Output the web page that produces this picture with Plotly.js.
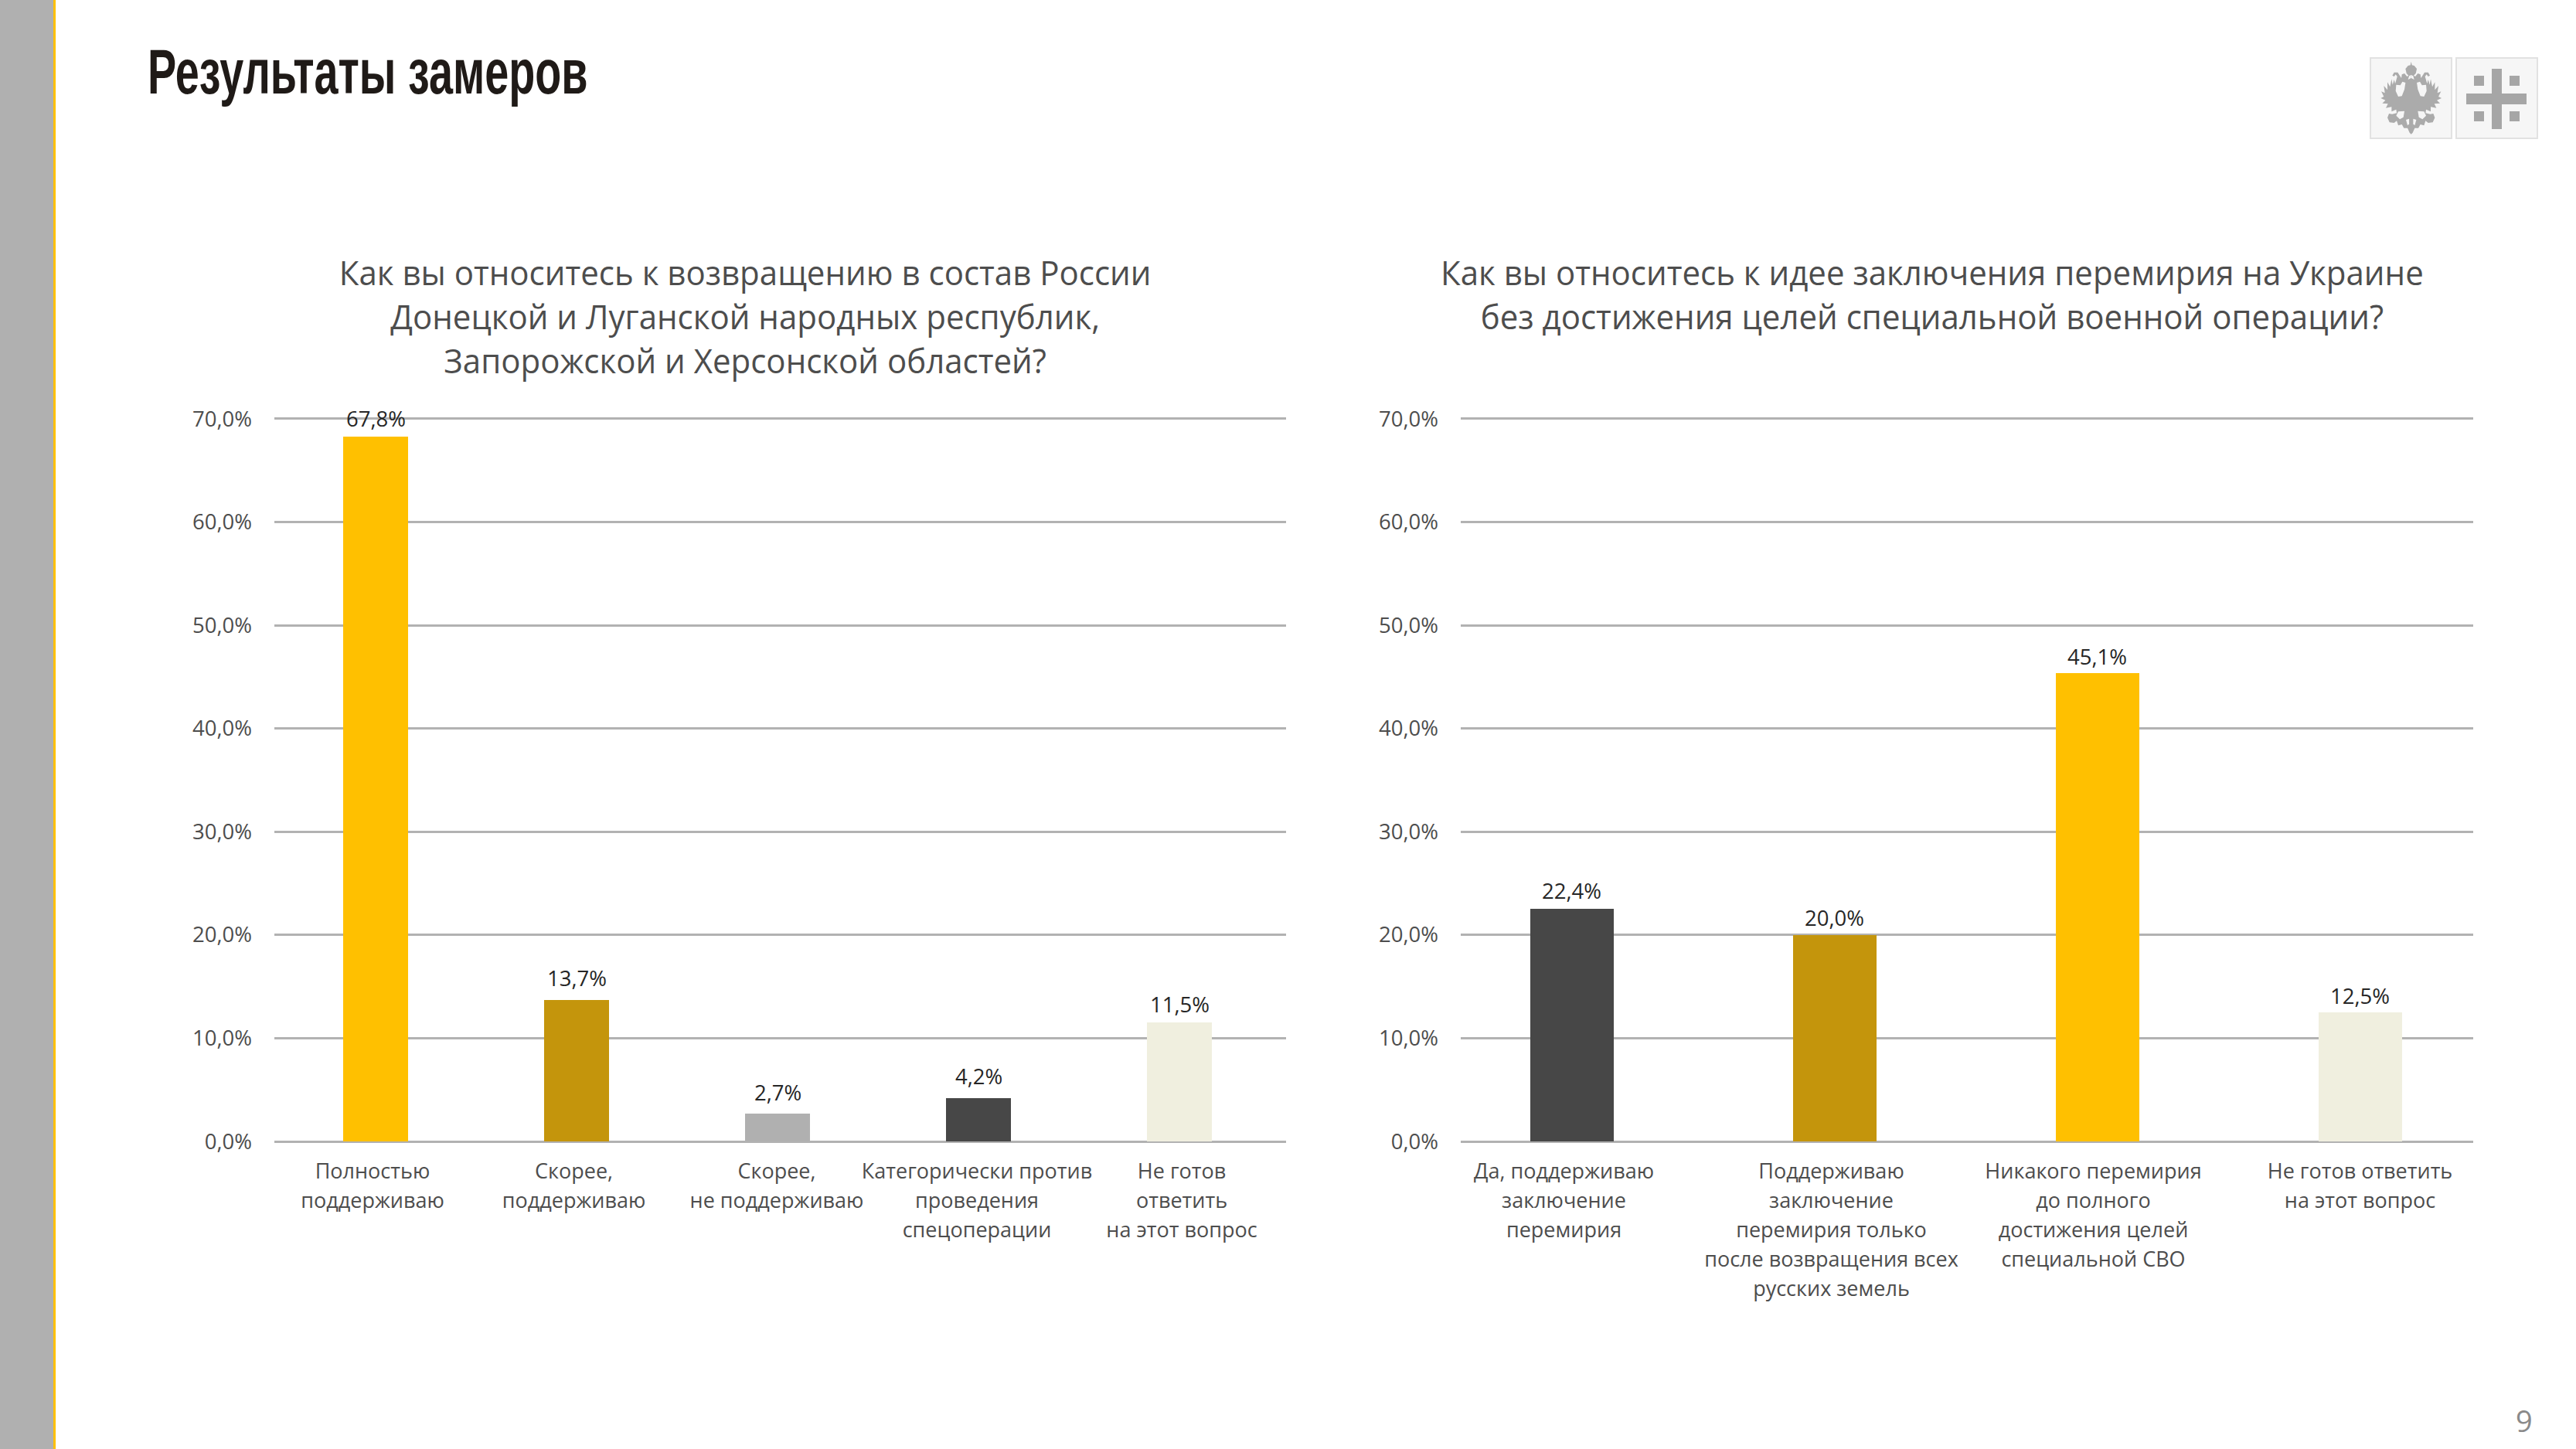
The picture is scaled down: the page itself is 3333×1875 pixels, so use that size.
<!DOCTYPE html>
<html><head><meta charset="utf-8">
<script src="https://cdn.plot.ly/plotly-3.0.1.min.js"></script>
<style>html,body{margin:0;padding:0;background:#fff;overflow:hidden}#c{width:3333px;height:1875px}</style>
</head><body><div id="c"></div>
<script>
const pageTitle = "Результаты замеров";
const pageNumber = "9";

const titleA = "Как вы относитесь к возвращению в состав России<br>Донецкой и Луганской народных республик,<br>Запорожской и Херсонской областей?";
const categoriesA = ["Полностью<br>поддерживаю","Скорее,<br>поддерживаю","Скорее,<br>не поддерживаю","Категорически против<br>проведения<br>спецоперации","Не готов<br>ответить<br>на этот вопрос"];
const barHeightsA = [68.3,13.7,2.7,4.2,11.5];
const labelsA = ["67,8%","13,7%","2,7%","4,2%","11,5%"];
const colorsA = ["#FFC000","#C4950C","#B0B0B0","#474747","#F0EFDF"];

const titleB = "Как вы относитесь к идее заключения перемирия на Украине<br>без достижения целей специальной военной операции?";
const categoriesB = ["Да, поддерживаю<br>заключение<br>перемирия","Поддерживаю<br>заключение<br>перемирия только<br>после возвращения всех<br>русских земель","Никакого перемирия<br>до полного<br>достижения целей<br>специальной СВО","Не готов ответить<br>на этот вопрос"];
const barHeightsB = [22.5,20.0,45.4,12.5];
const labelsB = ["22,4%","20,0%","45,1%","12,5%"];
const colorsB = ["#474747","#C4950C","#FFC000","#F0EFDF"];

const W = 3333, H = 1875;
const FONT = '"Open Sans", "Noto Sans", sans-serif';
const px = x => x / W, py = y => 1 - y / H;
const poly = pts => 'M' + pts.map(p => px(p[0]) + ',' + py(p[1])).join('L') + 'Z';
const rect = (x0, y0, x1, y1, fill, line) => ({type:'rect', xref:'paper', yref:'paper', x0:px(x0), x1:px(x1), y0:py(y0), y1:py(y1), fillcolor:fill, line:line ? {color:line, width:2} : {width:0}, layer:'below'});
const pathShape = (pts, fill) => ({type:'path', xref:'paper', yref:'paper', path:poly(pts), fillcolor:fill, line:{width:0}, layer:'below'});

/* emblem, half outline mirrored about its axis */
const eagleCx = 3119.7, eagleTop = 75;
const half = [[0,14],[3,28],[12,30],[22,42],[18,60],[10,68],[16,72],[26,60],[36,64],[38,78],[46,66],[52,56],[66,56],[73,68],[66,72],[60,64],[54,72],[62,100],[66,84],[72,104],[76,82],[82,112],[92,94],[92,124],[106,108],[102,136],[116,130],[106,150],[118,156],[100,164],[112,176],[90,178],[98,194],[76,190],[76,208],[58,200],[56,214],[74,218],[86,216],[92,232],[84,250],[66,252],[56,244],[50,262],[36,258],[28,272],[14,272],[6,290],[0,296]];
const eagle = half.concat(half.slice(1,-1).reverse().map(p => [-p[0], p[1]])).map(p => [eagleCx + p[0]/3, eagleTop + p[1]/3]);
const cut = (pts, sign) => pts.map(p => [eagleCx + sign*p[0]/3, eagleTop + p[1]/3]);
const cutA = [[22,96],[34,92],[42,106],[58,104],[60,128],[50,150],[36,148],[26,122]];
const cutB = [[26,206],[50,208],[58,224],[44,238],[30,230]];
const cutC = [[0,66],[8,70],[12,84],[0,78]];
const cutD = [[8,236],[20,240],[14,262],[8,256]];

const shapes = [
  rect(0,0,69,H,'#B0B0B0'), rect(69,0,72,H,'#FFC000'),
  rect(3067,75,3172,179,'#F6F6F6','#E2E2E2'), rect(3178,75,3283,179,'#F6F6F6','#E2E2E2'),
  pathShape(eagle,'#ABABAB'),
  pathShape(cut(cutA,1),'#F6F6F6'), pathShape(cut(cutA,-1),'#F6F6F6'),
  pathShape(cut(cutB,1),'#F6F6F6'), pathShape(cut(cutB,-1),'#F6F6F6'),
  pathShape(cut(cutC,1),'#F6F6F6'), pathShape(cut(cutC,-1),'#F6F6F6'),
  pathShape(cut(cutD,1),'#F6F6F6'), pathShape(cut(cutD,-1),'#F6F6F6'),
  rect(3224,89,3237,167,'#A6A6A6'), rect(3191,121,3269,135,'#A6A6A6'),
  rect(3201,98,3214,111,'#A6A6A6'), rect(3247,98,3260,111,'#A6A6A6'),
  rect(3201,144,3214,157,'#A6A6A6'), rect(3247,144,3260,157,'#A6A6A6')
];

const bar = (values, colors, xa, ya, width) => ({
  type:'bar', x:values.map((_, i) => i), y:values, xaxis:xa, yaxis:ya, width:width,
  marker:{color:colors, line:{width:0}}, cliponaxis:false, hoverinfo:'skip'
});

const yAxis = (anchor) => ({
  domain:[py(1477), py(539.3)], range:[0,70.2], anchor:anchor, fixedrange:true, tick0:0, dtick:10,
  tickformat:'.1f', ticksuffix:'%', ticklabelstandoff:28,
  tickfont:{family:FONT, size:27.5, color:'#4D4D4D'},
  showgrid:true, gridcolor:'#B2B2B2', gridwidth:3, zeroline:true, zerolinecolor:'#B2B2B2', zerolinewidth:3, showline:false, ticks:''
});
const xAxis = (anchor, x0, x1, c0, step, cats, shifts) => ({
  domain:[px(x0), px(x1)], range:[(x0-c0)/step, (x1-c0)/step], anchor:anchor, fixedrange:true, type:'linear',
  tickmode:'array', tickvals:cats.map((_, i) => i + shifts[i]/step), ticktext:cats, tickangle:0,
  ticklabelstandoff:20, tickfont:{family:FONT, size:27, color:'#4D4D4D'},
  showgrid:false, zeroline:false, showline:false, ticks:''
});

const note = (text, x, y, size, color, anchor, family, weight) => ({
  text:text, xref:'paper', yref:'paper', x:px(x), y:py(y), xanchor:anchor, yanchor:'middle', showarrow:false, align:'center',
  font:{family:family || FONT, size:size, color:color, weight:weight || 400}
});
const valueNotes = (labels, values, xa, ya, lifts) => labels.map((t, i) => ({
  text:t, xref:xa, yref:ya, x:i, y:values[i], xanchor:'center', yanchor:'middle', yshift:lifts[i], showarrow:false,
  font:{family:FONT, size:27.5, color:'#262626'}
}));

const layout = {
  width:W, height:H, margin:{l:0,r:0,t:0,b:0,pad:0}, paper_bgcolor:'#fff', plot_bgcolor:'rgba(0,0,0,0)',
  showlegend:false, separators:', ', hovermode:false, bargap:0, shapes:shapes,
  xaxis:xAxis('y',355,1664,486,260,categoriesA,[-4,-3.4,-1,-2,3]),
  yaxis:yAxis('x'),
  xaxis2:xAxis('y2',1890,3200,2033.5,340,categoriesB,[-10,-4,-5,0]),
  yaxis2:yAxis('x2'),
  annotations:[
    note(pageTitle,189,92,82,'#1F1A17','left','"Liberation Sans", sans-serif',700),
    note(titleA,964,409,44,'#4D4D4D','center'),
    note(titleB,2500,380,44,'#4D4D4D','center'),
    note(pageNumber,3266,1838,38,'#8A8A8A','center')
  ].concat(
    valueNotes(labelsA,barHeightsA,'x','y',[23,29,27,28,24]),
    valueNotes(labelsB,barHeightsB,'x2','y2',[24,22,21,22])
  )
};

const traces = [
  bar(barHeightsA,colorsA,'x','y',84/260),
  bar(barHeightsB,colorsB,'x2','y2',108/340)
];

const squeeze = (gd, index, factor, anchorLeft) => {
  const t = gd.querySelector('.annotation[data-index="' + index + '"] text');
  if (!t) return;
  const b = t.getBBox();
  const cx = anchorLeft ? b.x : b.x + b.width / 2;
  t.setAttribute('transform', 'translate(' + cx + ',0) scale(' + factor + ',1) translate(' + (-cx) + ',0)');
};

Plotly.newPlot('c',traces,layout,{displayModeBar:false,staticPlot:true}).then(gd => {
  /* the source's tick labels are spaced wider, and its titles set narrower, than the installed fonts give */
  gd.querySelectorAll('.xtick text tspan.line, .x2tick text tspan.line').forEach(t => {
    const dy = parseFloat(t.getAttribute('dy'));
    if (dy) t.setAttribute('dy', (dy * 1.082) + 'em');
  });
  squeeze(gd,0,0.68,true);
  squeeze(gd,1,0.955,false);
  squeeze(gd,2,0.955,false);
});
</script></body></html>
